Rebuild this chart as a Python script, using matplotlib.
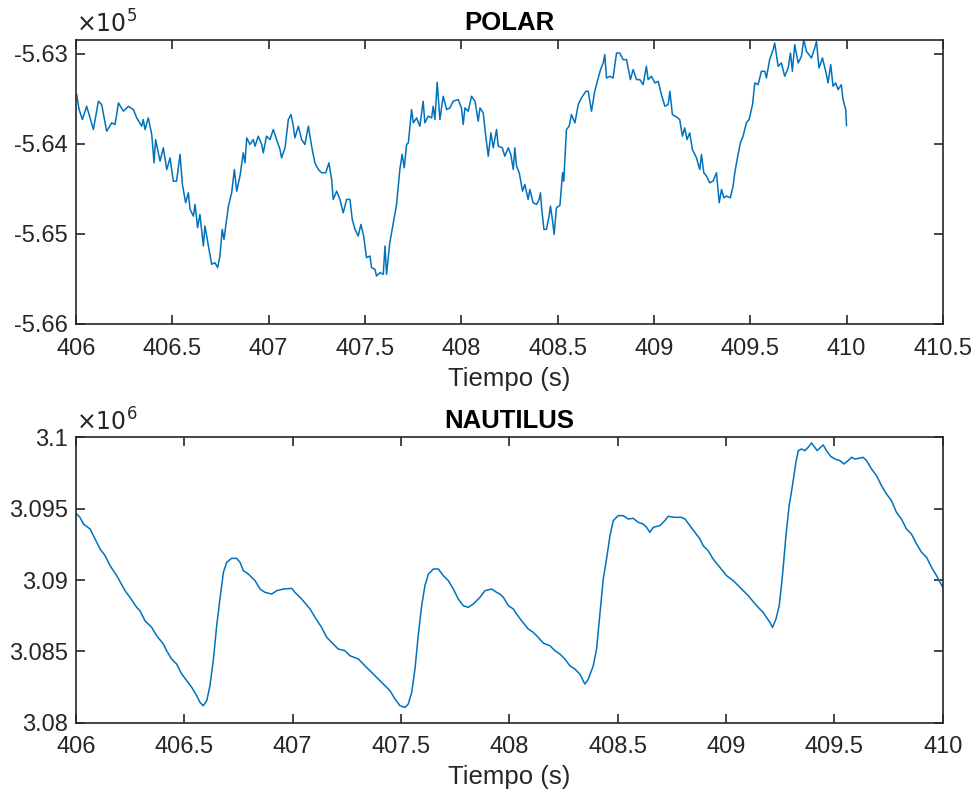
import matplotlib.pyplot as plt
from matplotlib.ticker import FuncFormatter

plt.rcParams["font.family"] = ["Liberation Sans", "DejaVu Sans"]

# POLAR signal (time in s, value)
polar_t = [
    406.003, 406.016, 406.033, 406.055, 406.073, 406.090, 406.116, 406.133, 406.159, 406.185,
    406.202, 406.211, 406.220, 406.246, 406.272, 406.298, 406.315, 406.341, 406.349, 406.358,
    406.375, 406.393, 406.405, 406.413, 406.436, 406.453, 406.471, 406.488, 406.505, 406.522,
    406.540, 406.552, 406.569, 406.583, 406.592, 406.609, 406.618, 406.631, 406.643, 406.661,
    406.669, 406.687, 406.704, 406.721, 406.735, 406.747, 406.759, 406.768, 406.782, 406.791,
    406.808, 406.822, 406.834, 406.851, 406.868, 406.877, 406.886, 406.903, 406.920, 406.929,
    406.946, 406.964, 406.972, 406.989, 407.007, 407.024, 407.041, 407.059, 407.067, 407.085,
    407.102, 407.116, 407.128, 407.136, 407.154, 407.171, 407.188, 407.206, 407.223, 407.240,
    407.258, 407.275, 407.296, 407.313, 407.327, 407.335, 407.353, 407.370, 407.387, 407.405,
    407.422, 407.434, 407.448, 407.465, 407.479, 407.493, 407.508, 407.526, 407.534, 407.552,
    407.560, 407.578, 407.595, 407.604, 407.612, 407.629, 407.647, 407.664, 407.681, 407.693,
    407.704, 407.716, 407.725, 407.742, 407.751, 407.768, 407.785, 407.802, 407.811, 407.828,
    407.846, 407.854, 407.863, 407.875, 407.889, 407.906, 407.924, 407.941, 407.958, 407.984,
    408.001, 408.010, 408.019, 408.036, 408.053, 408.071, 408.088, 408.097, 408.114, 408.126,
    408.140, 408.154, 408.166, 408.183, 408.192, 408.213, 408.226, 408.244, 408.257, 408.270,
    408.278, 408.287, 408.301, 408.318, 408.330, 408.347, 408.356, 408.373, 408.391, 408.404,
    408.411, 408.418, 408.429, 408.442, 408.456, 408.463, 408.474, 408.482, 408.494, 408.512,
    408.526, 408.532, 408.546, 408.560, 408.572, 408.590, 408.607, 408.624, 408.647, 408.659,
    408.676, 408.693, 408.711, 408.723, 408.737, 408.745, 408.754, 408.771, 408.788, 408.806,
    408.823, 408.840, 408.858, 408.878, 408.892, 408.910, 408.927, 408.944, 408.961, 408.970,
    408.987, 409.005, 409.022, 409.039, 409.057, 409.074, 409.083, 409.096, 409.117, 409.134,
    409.148, 409.160, 409.172, 409.186, 409.200, 409.221, 409.238, 409.247, 409.259, 409.273,
    409.290, 409.307, 409.325, 409.339, 409.351, 409.363, 409.377, 409.397, 409.411, 409.420,
    409.432, 409.449, 409.463, 409.480, 409.494, 409.512, 409.524, 409.541, 409.558, 409.576,
    409.584, 409.601, 409.619, 409.627, 409.645, 409.662, 409.679, 409.697, 409.709, 409.719,
    409.731, 409.749, 409.766, 409.778, 409.792, 409.818, 409.835, 409.844, 409.857, 409.875,
    409.892, 409.904, 409.918, 409.930, 409.944, 409.956, 409.973, 409.982, 409.996, 410.000,
]
polar_v = [
    -563454, -563621, -563731, -563584, -563713, -563842, -563528, -563565, -563861, -563768,
    -563787, -563676, -563547, -563639, -563584, -563621, -563713, -563805, -563731, -563842,
    -563713, -563898, -564212, -563953, -564193, -564045, -564286, -564156, -564415, -564415,
    -564119, -564452, -564655, -564544, -564729, -564803, -564673, -564932, -564784, -565135,
    -564913, -565135, -565338, -565320, -565375, -565246, -564950, -565061, -564840, -564692,
    -564544, -564286, -564526, -564359, -564101, -564212, -563935, -564008, -563953, -564027,
    -563916, -564008, -564101, -563916, -563953, -563842, -563953, -564064, -564156, -564045,
    -563731, -563676, -563805, -563935, -563805, -563953, -564008, -563805, -564027, -564212,
    -564286, -564322, -564322, -564212, -564396, -564618, -564526, -564618, -564766, -564618,
    -564618, -564840, -564950, -565024, -564895, -565024, -565264, -565246, -565375, -565394,
    -565468, -565431, -565449, -565135, -565449, -565098, -564877, -564673, -564286, -564119,
    -564267, -564008, -563990, -563621, -563768, -563713, -563805, -563528, -563768, -563694,
    -563713, -563584, -563731, -563318, -563731, -563473, -563621, -563602, -563528, -563510,
    -563602, -563787, -563602, -563639, -563473, -563528, -563750, -563602, -563658, -563898,
    -564138, -563879, -564045, -563842, -564027, -564045, -564138, -564045, -564119, -564286,
    -564045, -564249, -564322, -564526, -564452, -564618, -564507, -564655, -564673, -564618,
    -564544, -564729, -564950, -564950, -564803, -564692, -564858, -565006, -564710, -564684,
    -564322, -564415, -563842, -563805, -563676, -563768, -563565, -563491, -563417, -563417,
    -563639, -563417, -563270, -563177, -563103, -563011, -563270, -563251, -563270, -562993,
    -562993, -563066, -563066, -563288, -563177, -563288, -563288, -563344, -563140, -563288,
    -563251, -563325, -563307, -563454, -563584, -563565, -563417, -563676, -563702, -563731,
    -563916, -563824, -563953, -563879, -564064, -564156, -564286, -564119, -564322, -564359,
    -564433, -564415, -564322, -564655, -564507, -564600, -564581, -564600, -564470, -564322,
    -564175, -563990, -563916, -563768, -563731, -563565, -563325, -563344, -563196, -563196,
    -563270, -563066, -562956, -562882, -563140, -563103, -563251, -563159, -562993, -563196,
    -562900, -563103, -563030, -562845, -562974, -563048, -562937, -562863, -563159, -563048,
    -563196, -563325, -563122, -563362, -563325, -563399, -563344, -563510, -563621, -563798,
]

# NAUTILUS signal (time in s, value)
nautilus_t = [
    406.003, 406.018, 406.034, 406.065, 406.080, 406.111, 406.134, 406.157, 406.188, 406.226,
    406.249, 406.280, 406.295, 406.318, 406.349, 406.372, 406.403, 406.418, 406.441, 406.464,
    406.488, 406.511, 406.534, 406.557, 406.572, 406.587, 406.603, 406.618, 406.634, 406.649,
    406.664, 406.680, 406.695, 406.718, 406.741, 406.757, 406.772, 406.795, 406.826, 406.849,
    406.872, 406.903, 406.926, 406.957, 406.995, 407.010, 407.041, 407.080, 407.103, 407.133,
    407.157, 407.180, 407.210, 407.241, 407.264, 407.303, 407.333, 407.364, 407.395, 407.426,
    407.449, 407.472, 407.495, 407.518, 407.533, 407.549, 407.564, 407.579, 407.595, 407.610,
    407.626, 407.649, 407.672, 407.695, 407.718, 407.741, 407.764, 407.787, 407.810, 407.833,
    407.864, 407.887, 407.918, 407.941, 407.956, 407.972, 407.995, 408.018, 408.033, 408.056,
    408.087, 408.110, 408.133, 408.156, 408.187, 408.210, 408.233, 408.256, 408.279, 408.302,
    408.325, 408.348, 408.364, 408.387, 408.402, 408.417, 408.433, 408.448, 408.464, 408.479,
    408.502, 408.525, 408.548, 408.571, 408.594, 408.617, 408.633, 408.648, 408.664, 408.694,
    408.717, 408.733, 408.764, 408.794, 408.810, 408.833, 408.856, 408.879, 408.894, 408.917,
    408.940, 408.971, 409.002, 409.033, 409.056, 409.079, 409.102, 409.125, 409.148, 409.171,
    409.186, 409.202, 409.214, 409.230, 409.245, 409.260, 409.276, 409.291, 409.306, 409.322,
    409.333, 409.348, 409.363, 409.379, 409.394, 409.409, 409.420, 409.436, 409.448, 409.463,
    409.482, 409.502, 409.525, 409.543, 409.563, 409.579, 409.594, 409.614, 409.632, 409.648,
    409.671, 409.694, 409.717, 409.740, 409.763, 409.786, 409.809, 409.832, 409.855, 409.879,
    409.902, 409.925, 409.948, 409.971, 410.000,
]
nautilus_v = [
    3094633, 3094399, 3093931, 3093580, 3093112, 3092176, 3091708, 3091006, 3090304, 3089251,
    3088783, 3088081, 3087847, 3087145, 3086677, 3086092, 3085507, 3085039, 3084454, 3084103,
    3083401, 3082933, 3082465, 3081880, 3081412, 3081178, 3081529, 3082582, 3084454, 3086794,
    3088666, 3090538, 3091240, 3091521, 3091521, 3091240, 3090655, 3090421, 3089953, 3089368,
    3089134, 3089017, 3089251, 3089368, 3089415, 3089134, 3088666, 3087964, 3087379, 3086677,
    3085975, 3085624, 3085156, 3085039, 3084688, 3084454, 3083986, 3083518, 3083050, 3082582,
    3082231, 3081646, 3081178, 3081061, 3081295, 3082114, 3083752, 3086092, 3088198, 3089602,
    3090421, 3090772, 3090772, 3090304, 3089953, 3089368, 3088666, 3088198, 3088081, 3088315,
    3088783, 3089251, 3089368, 3089134, 3089017, 3088783, 3088198, 3087964, 3087613, 3087145,
    3086560, 3086326, 3085975, 3085577, 3085390, 3085039, 3084805, 3084454, 3083986, 3083752,
    3083401, 3082699, 3083050, 3083986, 3085156, 3087496, 3090070, 3091474, 3093112, 3094165,
    3094516, 3094516, 3094282, 3094329, 3094048, 3093931, 3093697, 3093346, 3093697, 3093814,
    3094165, 3094469, 3094399, 3094399, 3094282, 3093814, 3093346, 3092878, 3092410, 3092059,
    3091474, 3090889, 3090304, 3089953, 3089602, 3089251, 3088900, 3088479, 3088081, 3087730,
    3087379, 3087028, 3086677, 3087262, 3088198, 3090304, 3093112, 3095218, 3096622, 3098260,
    3099079, 3099196, 3099079, 3099313, 3099617, 3099313, 3099079, 3099313, 3099477, 3099079,
    3098681, 3098494, 3098377, 3098143, 3098377, 3098611, 3098494, 3098541, 3098611, 3098377,
    3097792, 3097324, 3096622, 3096037, 3095569, 3094750, 3094282, 3093580, 3093229, 3092527,
    3091942, 3091591, 3090889, 3090304, 3089485,
]

line_color = "#0072BD"
axis_color = "#262626"

fig = plt.figure(figsize=(9.75, 7.94), dpi=100)
ax1 = fig.add_axes([0.078, 0.592, 0.889, 0.358])
ax2 = fig.add_axes([0.078, 0.090, 0.889, 0.359])


def style_axes(ax, title, scale, exp):
    for s in ax.spines.values():
        s.set_color(axis_color)
        s.set_linewidth(1.2)
    ax.tick_params(direction="in", top=True, right=True, length=6.5, width=1.2,
                   color=axis_color, labelcolor=axis_color, labelsize=17)
    ax.tick_params(axis="x", pad=10)
    ax.tick_params(axis="y", pad=6)
    ax.yaxis.set_major_formatter(FuncFormatter(lambda v, p: f"{v / scale:g}"))
    ax.xaxis.set_major_formatter(FuncFormatter(lambda v, p: f"{v:g}"))
    ax.set_xlabel("Tiempo (s)", fontsize=18.5, color=axis_color, labelpad=5)
    ax.set_title(title, fontsize=18.5, fontweight="bold", pad=7)
    ax.text(0.0, 1.008, rf"$\times10^{{{exp}}}$", transform=ax.transAxes,
            fontsize=17, color=axis_color, ha="left", va="bottom")


ax1.plot(polar_t, polar_v, color=line_color, linewidth=1.1)
ax1.set_xlim(406, 410.5)
ax1.set_ylim(-566000, -562845)
ax1.set_xticks([406, 406.5, 407, 407.5, 408, 408.5, 409, 409.5, 410, 410.5])
ax1.set_yticks([-566000, -565000, -564000, -563000])
style_axes(ax1, "POLAR", 1e5, 5)

ax2.plot(nautilus_t, nautilus_v, color=line_color, linewidth=1.1)
ax2.set_xlim(406, 410)
ax2.set_ylim(3.08e6, 3.1e6)
ax2.set_xticks([406, 406.5, 407, 407.5, 408, 408.5, 409, 409.5, 410])
ax2.set_yticks([3.08e6, 3.085e6, 3.09e6, 3.095e6, 3.1e6])
style_axes(ax2, "NAUTILUS", 1e6, 6)

fig.savefig("out.png", dpi=100)
plt.close(fig)
